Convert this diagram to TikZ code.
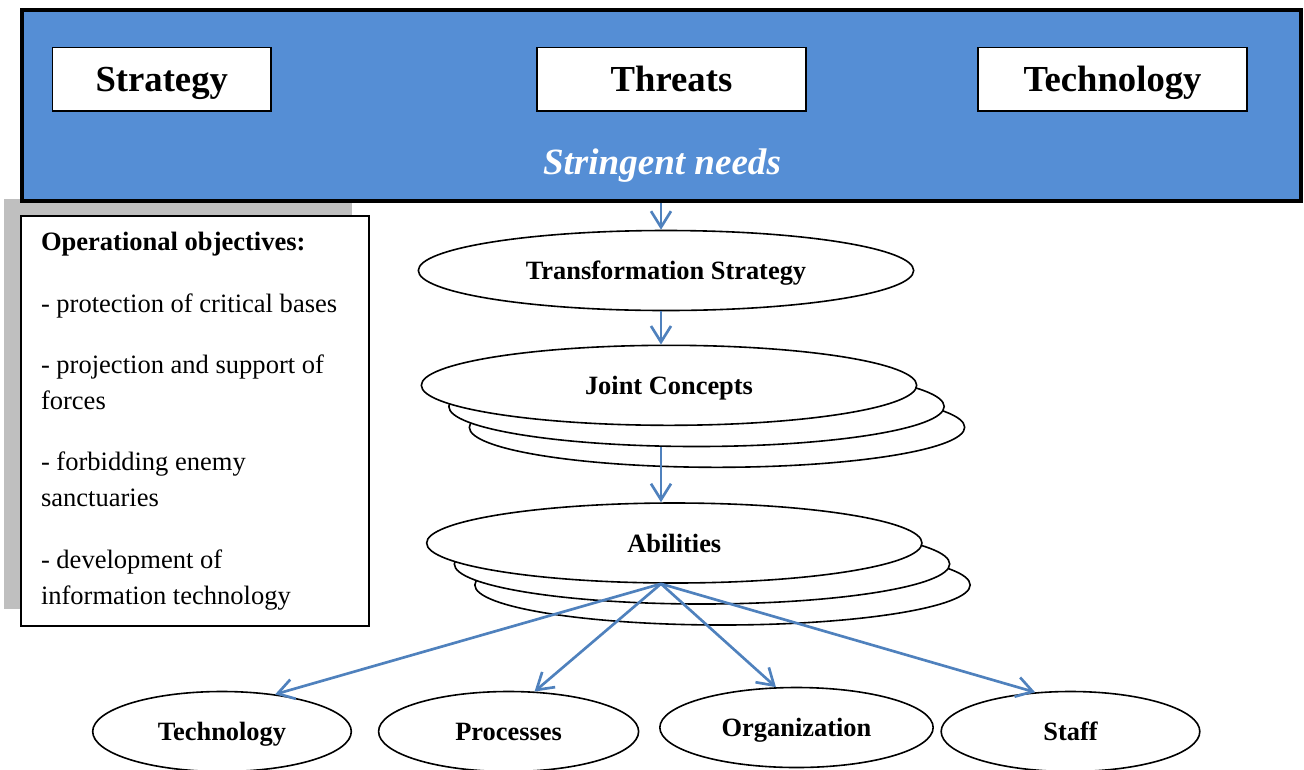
\documentclass[tikz,border=0pt]{standalone}
\usepackage{fontspec}
\setmainfont{Liberation Serif}
\usetikzlibrary{positioning}
\usetikzlibrary{arrows.meta}
\usetikzlibrary{shapes.geometric}
\usetikzlibrary{shadows}
\definecolor{needsblue}{RGB}{85,142,213}
\definecolor{accent}{RGB}{79,129,189}

\begin{document}
\begin{tikzpicture}[
  x = 0.75pt, y = -0.75pt,
  factor/.style = {draw, fill=white, line width=1.4pt, minimum height=47.6pt,
    text height=23pt, text depth=4.7pt,
    font=\fontsize{27.5pt}{33pt}\selectfont\bfseries},
  oval/.style = {draw, fill=white, ellipse, line width=1.2pt, inner sep=0pt,
    minimum width=371.5pt, minimum height=60pt,
    text height=17.5pt, text depth=3.8pt,
    font=\fontsize{19.8pt}{24pt}\selectfont\bfseries},
  leaf/.style = {oval, minimum width=194pt},
  line/.style = {draw=accent, line width=2pt, ->},
  >={Straight Barb[length=12pt, width=15pt]},
]

  \useasboundingbox (0,0) rectangle (1304,769);

  \node[draw, fill=needsblue, line width=3pt, minimum width=959.25pt,
    minimum height=143.6pt] (needs) at (661,105.75) {};
  \node[factor, minimum width=163.9pt] (strategy) at (161.75,79.25) {Strategy};
  \node[factor, minimum width=201.75pt] (threats) at (671.5,79.25) {Threats};
  \node[factor, minimum width=201.75pt] (technology) at (1112.5,79.25) {Technology};
  \node[text=white, font=\fontsize{27.8pt}{33pt}\selectfont\bfseries\itshape]
    (stringent) at (662,166) {Stringent needs};

  \node[draw, fill=white, line width=1.2pt, minimum height=307.5pt,
    text width=231pt, inner xsep=15pt, align=flush left,
    font=\fontsize{19.9pt}{27pt}\selectfont,
    drop shadow={shadow xshift=-12.75pt, shadow yshift=12.4pt, fill=black, opacity=.25}]
    (objectives) at (195,421)
    {\textbf{Operational objectives:}\\[19pt]
     - protection of critical bases\\[19pt]
     - projection and support of\\ forces\\[19pt]
     - forbidding enemy\\ sanctuaries\\[19pt]
     - development of\\ information technology};

  \node[oval] (transformation) at (666,270.5) {Transformation Strategy};

  \node[oval] (joint c) at (717,427.3) {};
  \node[oval] (joint b) at (696.5,406.5) {};
  \node[oval] (joint) at (669,385.3) {Joint Concepts};

  \node[oval] (abilities c) at (722.5,585) {};
  \node[oval] (abilities b) at (702,564) {};
  \node[oval] (abilities) at (674.3,543) {Abilities};

  \node[leaf] (tech) at (222,731.5) {Technology};
  \node[leaf, minimum width=195pt] (processes) at (508.6,731.5) {Processes};
  \node[leaf, minimum width=205pt] (organization) at (796.5,727.5) {Organization};
  \node[leaf] (staff) at (1070.5,731.5) {Staff};

  \draw[line] (needs.south) -- (needs.south |- transformation.north);
  \draw[line] (needs.south |- transformation.south) -- (needs.south |- joint.north);
  \draw[line] (needs.south |- joint b.south) -- (needs.south |- abilities.north);

  \coordinate (fan) at (needs.south |- abilities.south);
  \draw[line] (fan) -- (tech.35);
  \draw[line] (fan) -- (processes.57);
  \draw[line] (fan) -- (organization.117);
  \draw[line] (fan) -- (staff.132);

\end{tikzpicture}
\end{document}
